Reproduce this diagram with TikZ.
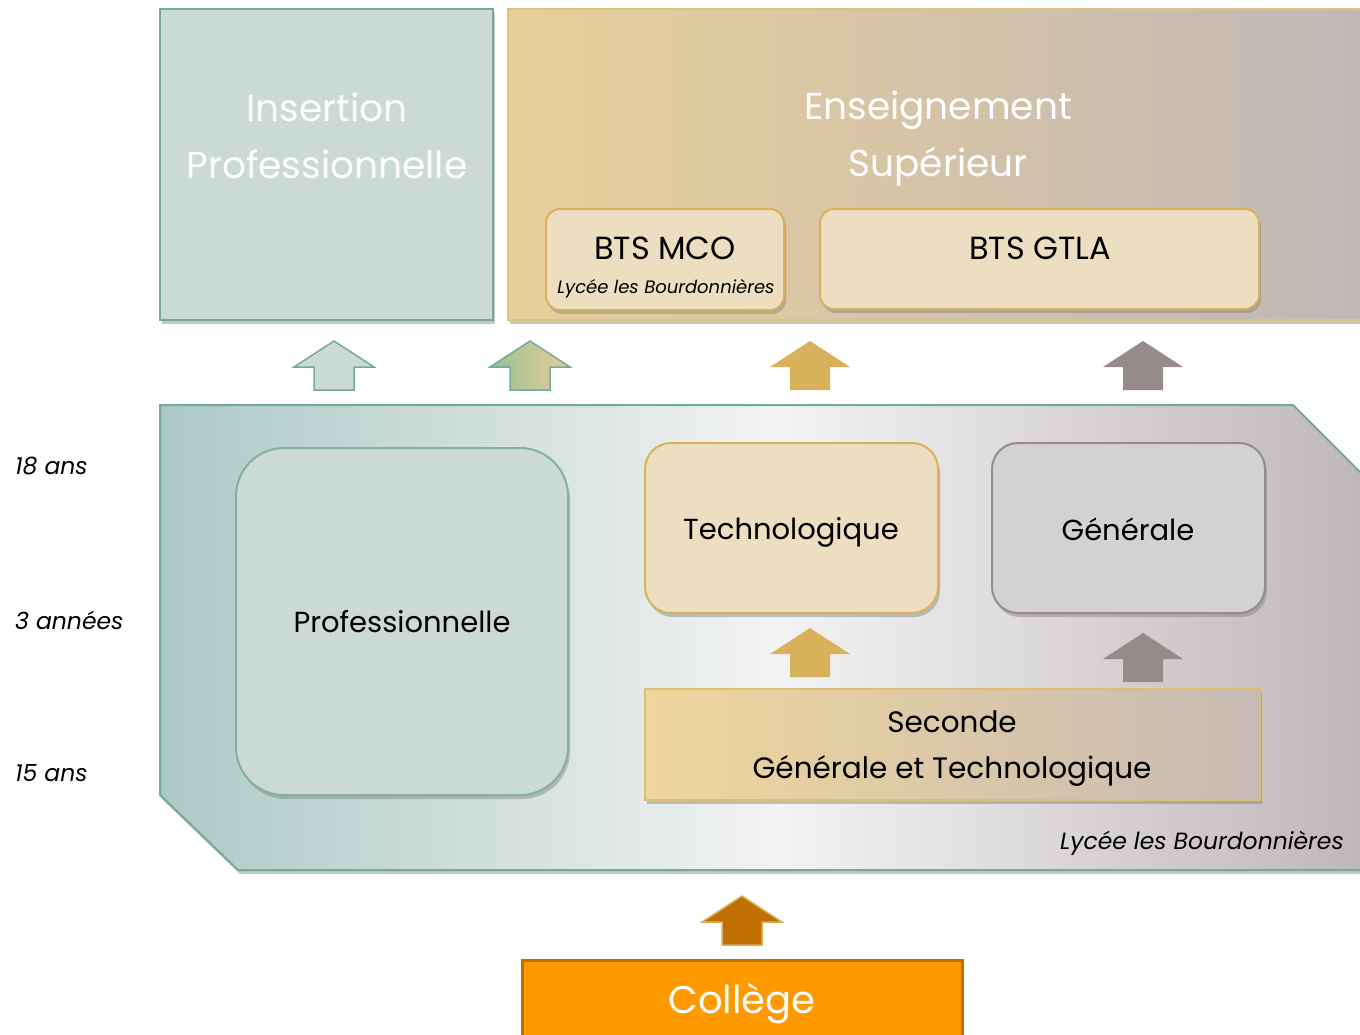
\documentclass[tikz,border=0pt]{standalone}
\usepackage{fontspec}
\setmainfont{Poppins}
\usetikzlibrary{shadows}
\definecolor{sage}{HTML}{CBDAD5}
\definecolor{sageb}{HTML}{74A99B}
\definecolor{sand}{HTML}{EDDEC2}
\definecolor{gold}{HTML}{D9B15A}
\definecolor{greyb}{HTML}{958B8B}
\definecolor{greyf}{HTML}{D3D2D2}
\definecolor{orangef}{HTML}{FF9900}
\definecolor{oranged}{HTML}{C07000}
\definecolor{esl}{HTML}{E8CF9A}
\definecolor{esr}{HTML}{C0B7B7}
\definecolor{agl}{HTML}{96C098}
\definecolor{agr}{HTML}{E8CE94}
\definecolor{lyl}{HTML}{ACCAC4}
\definecolor{lym}{HTML}{F3F3F3}
\definecolor{lyr}{HTML}{BCB4B4}
\definecolor{sel}{HTML}{F0D69C}
\definecolor{ser}{HTML}{C6BAB4}
\tikzset{
  shd/.style={drop shadow={opacity=0.45,shadow xshift=2pt,shadow yshift=-4pt}},
  upar/.pic={\path[pic actions] (0,0) -- (40,26) -- (20,26) -- (20,49) -- (-20,49) -- (-20,26) -- (-40,26) -- cycle;},
  lbl/.style={font=\itshape\fontsize{23.5}{26}\selectfont,anchor=west,inner sep=0},
  txt/.style={font=\fontsize{29}{34}\selectfont,text=black,align=center},
  head/.style={font=\fontsize{37.5}{57}\selectfont,text=white,align=center}
}
\begin{document}
\begin{tikzpicture}[x=1pt,y=-1pt]
\useasboundingbox (0,0) rectangle (1360,1034);
\clip (0,0) rectangle (1360,1034);
% top boxes
\path[shd,fill=sage,draw=sageb,line width=1.5] (160,9) rectangle (493,320);
\node[head] (ip) at (327,136) {Insertion\\Professionnelle};
\path[shd,left color=esl,right color=esr,draw=gold!80,line width=1.5] (508,9) rectangle (1380,320);
\node[head] (es) at (938,139) {Enseignement\\Supérieur};
\path[shd,fill=sand,draw=gold,line width=2,rounded corners=14] (546,209) rectangle (784,310);
\node[txt,font=\fontsize{32}{36}\selectfont] (mco) at (665,248) {BTS MCO};
\node[font=\itshape\fontsize{18}{20}\selectfont] (mcol) at (666,289) {Lycée les Bourdonnières};
\path[shd,fill=sand,draw=gold,line width=2,rounded corners=14] (820,209) rectangle (1259,309);
\node[txt,font=\fontsize{32}{36}\selectfont] (gtla) at (1040,248) {BTS GTLA};
% arrows row 1
\pic[shd,fill=sage,draw=sageb,line width=1.5] at (334,341) {upar};
\pic[shd,left color=agl,right color=agr,draw=sageb,line width=1.5] at (530,341) {upar};
\pic[shd,fill=gold] at (810,341) {upar};
\pic[shd,fill=greyb] at (1143,341) {upar};
% lycee shape
\path[shd,left color=lyl,right color=lyr,middle color=lym,draw=sageb,line width=2]
  (160,405) -- (1293,405) -- (1400,512) -- (1400,870) -- (238,870) -- (160,795) -- cycle;
\path[shd,fill=sage,draw=sageb!90,line width=2,rounded corners=48] (236,448) rectangle (568,795);
\node[txt] (pro) at (402,622) {Professionnelle};
\path[shd,fill=sand,draw=gold,line width=2,rounded corners=26] (645,443) rectangle (938,613);
\node[txt] (tech) at (791,532) {Technologique};
\path[shd,fill=greyf,draw=greyb,line width=2,rounded corners=26] (992,443) rectangle (1265,613);
\node[txt] (gen) at (1128,529) {Générale};
\pic[shd,fill=gold] at (810,628) {upar};
\pic[shd,fill=greyb] at (1143,633) {upar};
\path[shd,left color=sel,right color=ser,draw=gold!85,line width=2] (645,689) rectangle (1260,800);
\node[txt,font=\fontsize{29.5}{46}\selectfont] (sec) at (952,749) {Seconde\\Générale et Technologique};
\node[font=\itshape\fontsize{23.5}{26}\selectfont,anchor=east,inner sep=0] (lyc) at (1344,843) {Lycée les Bourdonnières};
% ages
\node[lbl] (a18) at (15,466) {18 ans};
\node[lbl] (a3) at (15,620) {3 années};
\node[lbl] (a15) at (15,773) {15 ans};
% college
\pic[shd,fill=oranged,draw=gold,line width=1.5] at (742,896) {upar};
\path[fill=orangef,draw=oranged,line width=3] (522,960) rectangle (962,1040);
\node[head,font=\fontsize{38.5}{42}\selectfont] (col) at (742,1004) {Collège};
\end{tikzpicture}
\end{document}
